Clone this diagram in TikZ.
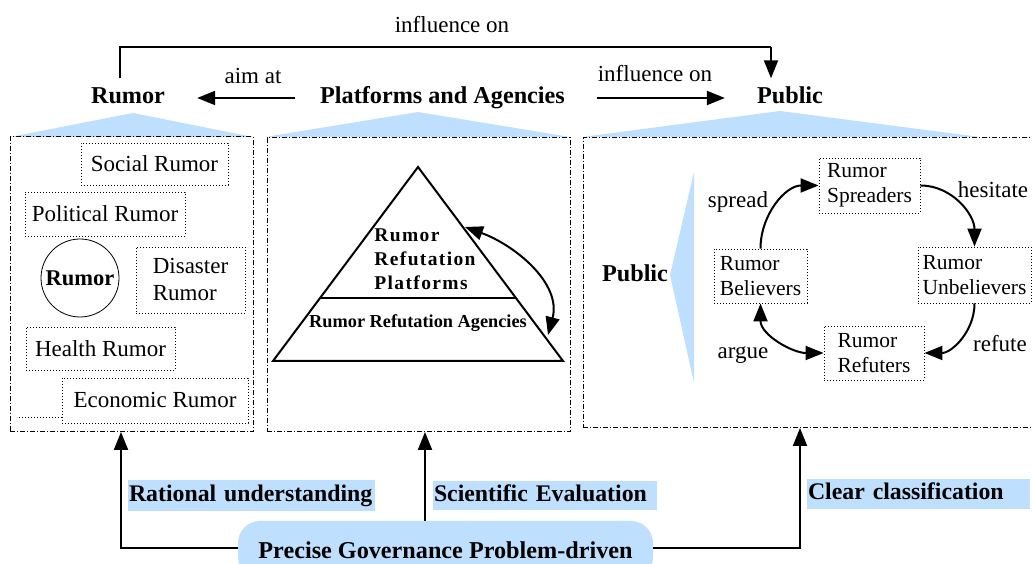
\documentclass[tikz,border=0pt]{standalone}
\usepackage{fontspec}
\setmainfont{Liberation Serif}
\newfontfamily\spacedserif{Liberation Serif}[LetterSpace=7]
\usetikzlibrary{arrows.meta,calc}
\definecolor{lightblue}{RGB}{191,223,255}

\begin{document}
\begin{tikzpicture}[x=1pt,y=1pt,
  tip/.style={-{Triangle[length=18pt,width=14pt]}},
  twotip/.style={{Triangle[length=18pt,width=14pt]}-{Triangle[length=18pt,width=14pt]}},
  link/.style={line width=2pt},
  panel/.style={draw, line width=0.8pt, dash pattern=on 5pt off 2pt on 1pt off 2pt,
    inner sep=0pt, anchor=south west},
  dotline/.style={line width=0.9pt, dash pattern=on 1pt off 2pt},
  catbox/.style={draw, dotline, inner sep=0pt, align=left,
    font=\fontsize{23}{27}\selectfont},
  rolebox/.style={draw, dotline, inner sep=0pt, align=left,
    font=\fontsize{21.5}{25}\selectfont},
  heading/.style={font=\bfseries\fontsize{24.2}{28}\selectfont,
    text height=16pt, text depth=5pt, inner xsep=3pt, inner ysep=9pt},
  lbl/.style={font=\fontsize{23}{26}\selectfont, inner sep=0pt},
  tag/.style={fill=lightblue, inner xsep=1pt, inner ysep=0pt, align=left,
    text height=16.5pt, text depth=5.3pt,
    font=\bfseries\fontsize{23.8}{28}\selectfont},
]
\useasboundingbox (0,0) rectangle (1032,564);

% ---------- headings and their relations ----------
\node[heading] (rumorT)  at (128,466)   {Rumor};
\node[heading] (platT)   at (442.5,466) {Platforms and Agencies};
\node[heading] (publicT) at (790,466)   {Public};

\coordinate (topL) at (120,517);
\coordinate (topR) at (771,517);
\draw[link] (rumorT.north -| topL) -- (topL) -- (topR);
\draw[link,tip] (topR) -- (publicT.north -| topR);
\node[lbl] (infTop) at (452,539) {influence on};

\draw[link,tip,shorten <=21.5pt,shorten >=29pt] (platT.west) -- (rumorT.east);
\node[lbl] (aimLbl) at (253,488) {aim at};
\draw[link,tip,shorten <=28.5pt,shorten >=29pt] (platT.east) -- (publicT.west);
\node[lbl] (infLbl) at (655,490) {influence on};

% ---------- blue roofs over the three panels ----------
\fill[lightblue] (10,427)  -- (253,427) -- (133,451) -- cycle;
\fill[lightblue] (265,427) -- (570,427) -- (418,452) -- cycle;
\fill[lightblue] (582,427) -- (980,427) -- (780,453) -- cycle;

% ---------- panels ----------
\node[panel, minimum width=243pt, minimum height=295pt] (p1) at (10,132) {};
\node[panel, minimum width=303pt, minimum height=294pt] (p2) at (267,132) {};
\node[panel, minimum width=457pt, minimum height=290pt] (p3) at (583,136) {};

% ---------- rumor categories ----------
\node[catbox, minimum width=147pt, minimum height=42pt] (social)    at (154.5,400) {Social Rumor};
\node[catbox, minimum width=160pt, minimum height=44pt] (political) at (105,350)   {Political Rumor};
\node[draw, circle, line width=0.8pt, minimum size=78pt, inner sep=0pt,
      font=\bfseries\fontsize{22.5}{26}\selectfont] (core) at (80,286) {Rumor};
\node[catbox, minimum width=109pt, minimum height=66pt] (disaster)  at (190.5,284) {Disaster\\Rumor};
\node[catbox, minimum width=149pt, minimum height=43pt] (health)    at (100.5,215.5) {Health Rumor};
\node[catbox, minimum width=186pt, minimum height=45pt] (economic)  at (155,163.5) {Economic Rumor};
\draw[dotline] ([yshift=-16.5pt]economic.west) -- ++(-45,0);

% ---------- refutation pyramid ----------
\coordinate (apex) at (418,397);
\coordinate (bl)   at (273,203);
\coordinate (br)   at (563,203);
\draw[line width=2pt, line join=miter] (apex) -- (bl) -- (br) -- cycle;
\draw[line width=2pt] ($(apex)!0.675!(bl)$) -- ($(apex)!0.675!(br)$);
\node[font=\spacedserif\bfseries\fontsize{19.5}{24}\selectfont, align=left, inner sep=0pt]
  (platforms) at (425,305) {Rumor\\Refutation\\Platforms};
\node[font=\bfseries\fontsize{18.3}{22}\selectfont, inner sep=0pt]
  (agencies) at (418,241) {Rumor Refutation Agencies};
\coordinate (edgeA) at (465,337);
\coordinate (edgeB) at (548,229);
\draw[link,twotip] (edgeA) to[out=-20,in=75] (edgeB);

% ---------- public roles ----------
\fill[lightblue] (694,392) -- (670,289) -- (694,181) -- cycle;
\node[heading] (publicM) at (635,287.5) {Public};

\node[rolebox, minimum width=101pt, minimum height=55pt] (spreaders)   at (869.5,378.5) {Rumor\\Spreaders};
\node[rolebox, minimum width=93pt,  minimum height=54pt] (believers)   at (760.5,288)   {Rumor\\Believers};
\node[rolebox, minimum width=113pt, minimum height=56pt] (unbelievers) at (974.5,289)   {Rumor\\Unbelievers};
\node[rolebox, minimum width=100pt, minimum height=54pt] (refuters)    at (874,211)     {Rumor\\Refuters};

\draw[link,tip] (believers.north) to[out=90,in=180] (spreaders.west);
\draw[link,tip] (spreaders.east) to[out=0,in=90] (unbelievers.north);
\draw[link,tip] (unbelievers.south) to[out=-90,in=0] (refuters.east);
\draw[link,twotip] (believers.south) to[out=-90,in=180] (refuters.west);
\node[lbl] (spreadLbl)   at (738,362)  {spread};
\node[lbl] (hesitateLbl) at (993,374)  {hesitate};
\node[lbl] (refuteLbl)   at (1000,220) {refute};
\node[lbl] (argueLbl)    at (743,209)  {argue};

% ---------- governance driver ----------
\node[fill=lightblue, rounded corners=22pt, minimum width=415pt, minimum height=58pt,
      inner sep=0pt, font=\bfseries\fontsize{24.2}{28}\selectfont]
  (goal) at (445.5,14) {Precise Governance Problem-driven};

\coordinate (cornerL) at (121,16);
\coordinate (midX)    at (425,0);
\coordinate (cornerR) at (800,16);
\draw[link,tip] ([yshift=2pt]goal.west) -- (cornerL) -- (cornerL |- p1.south);
\draw[link,tip] (goal.north -| midX) -- (p2.south -| midX);
\draw[link,tip] ([yshift=2pt]goal.east) -- (cornerR) -- (cornerR |- p3.south);

\node[tag, text width=245pt, minimum height=31pt] (rational)   at (251.5,68.5) {Rational understanding};
\node[tag, text width=222pt, minimum height=29pt] (scientific) at (545,68.5)   {Scientific Evaluation};
\node[tag, text width=221pt, minimum height=30pt] (clear)      at (918.5,70)   {Clear classification};
\end{tikzpicture}
\end{document}
